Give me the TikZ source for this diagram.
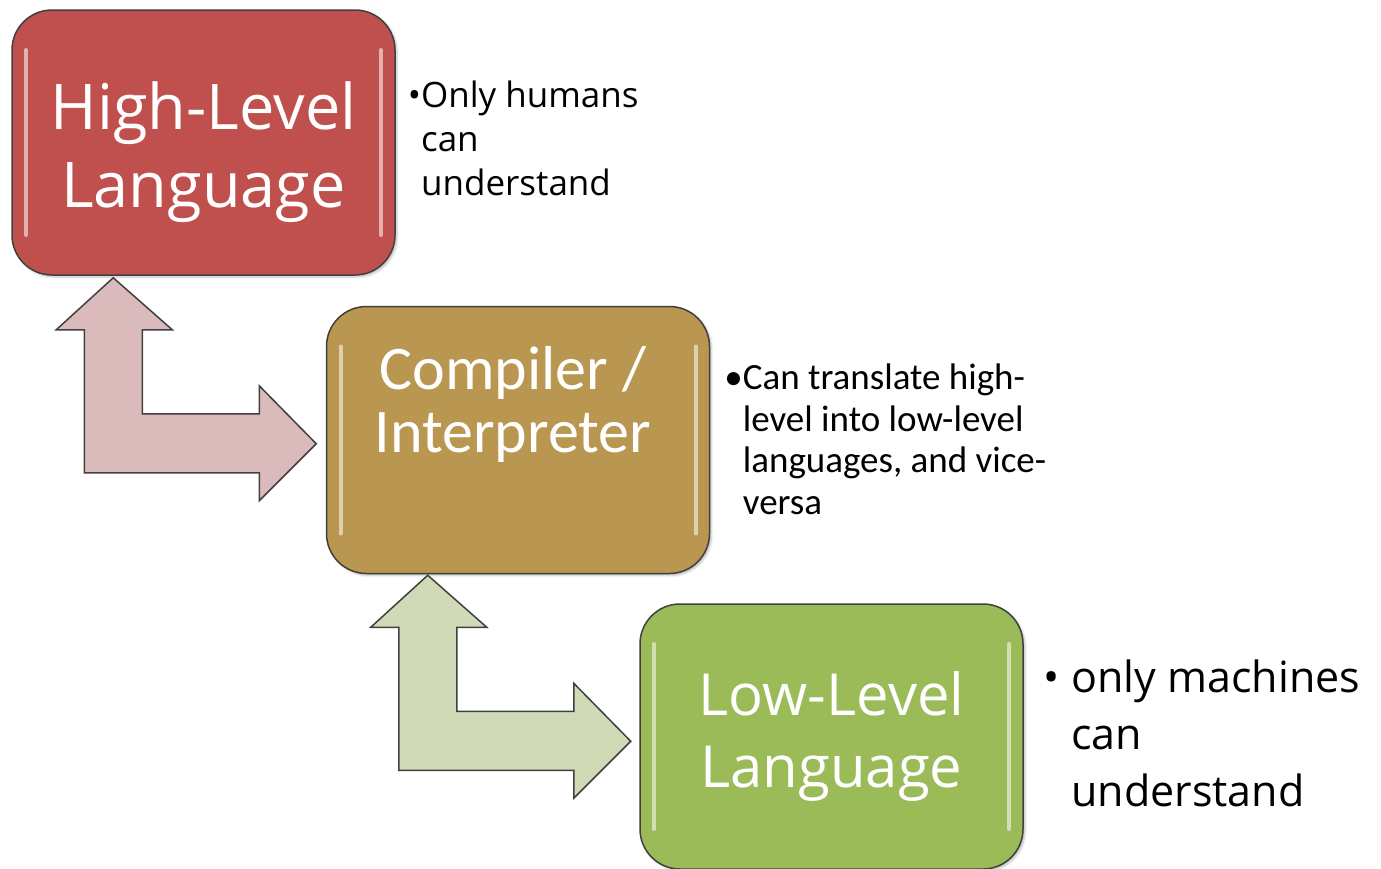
\documentclass[tikz,border=0pt]{standalone}
\usepackage{fontspec}
\setmainfont{Open Sans}
\newfontfamily\calibri{Carlito}
\usepackage{tikz}
\usetikzlibrary{calc, positioning, shadows.blur}
\definecolor{hlred}{HTML}{C0504D}
\definecolor{hltan}{HTML}{BA9751}
\definecolor{hlgreen}{HTML}{9BBB59}
\definecolor{arrpink}{HTML}{DBBABB}
\definecolor{arrgreen}{HTML}{D0DAB6}
\tikzset{
  level/.style={
    rectangle, rounded corners=40pt, minimum width=383pt, minimum height=265pt,
    align=center, draw=black!75, line width=1.5pt, text=white, inner sep=0pt,
    blur shadow={shadow xshift=2pt, shadow yshift=-2pt, shadow opacity=25},
    path picture={
      \draw[white, opacity=0.55, line width=4pt, line cap=round]
        ([shift={(14pt,-40pt)}]path picture bounding box.north west) --
        ([shift={(14pt,40pt)}]path picture bounding box.south west)
        ([shift={(-14pt,-40pt)}]path picture bounding box.north east) --
        ([shift={(-14pt,40pt)}]path picture bounding box.south east);
    }
  },
  note/.style={anchor=north west, align=left, inner sep=0pt, text=black},
  bentarrow/.pic={
    \draw[pic actions] (0,0) -- (0,-143) -- (-28,-143) -- (29,-195) -- (88,-143)
      -- (58,-143) -- (58,-59) -- (175,-59) -- (175,-87) -- (232,-29)
      -- (175,28) -- (175,0) -- cycle;
  },
  arrowshape/.style={draw=black!75, line width=1.5pt, line join=miter,
    blur shadow={shadow xshift=2pt, shadow yshift=-2pt, shadow opacity=25}}
}

\begin{document}
\begin{tikzpicture}[x=1pt, y=-1pt]
\useasboundingbox (0,0) rectangle (1381,868);

% The three levels
\node[level, fill=hlred, font=\fontsize{63}{78}\selectfont] (high) at (203.5,142.5)
  {\\[-10pt]High-Level\\Language};
\node[level, fill=hltan, minimum height=267pt, below right=30pt and -70pt of high] (comp) {};
\node[level, fill=hlgreen, below right=29pt and -71pt of comp, font=\fontsize{58}{72}\selectfont] (low)
  {Low-Level\\Language};
\node[text=white, align=center, font=\calibri\fontsize{62}{63}\selectfont] (comptxt)
  at ($(comp.center)+(-5,-36)$) {Compiler /\\Interpreter};

% Bent double arrows between the levels
\pic[arrowshape, fill=arrpink] at ($(high.south west)+(73,197)$) {bentarrow};
\pic[arrowshape, fill=arrgreen] at ($(comp.south west)+(73,196)$) {bentarrow};

% Notes
\node[note, font=\fontsize{35}{44}\selectfont] (highnote) at ($(high.north east)+(12,71)$)
  {•Only humans\\\hphantom{•}can\\\hphantom{•}understand};
\node[note, font=\calibri\fontsize{37}{41.5}\selectfont] (compnote) at ($(comp.north east)+(14,58)$)
  {•Can translate high-\\\hphantom{•}level into low-level\\\hphantom{•}languages, and vice-\\\hphantom{•}versa};
\node[note, font=\fontsize{43}{57}\selectfont] (lownote) at ($(low.north east)+(20,56)$)
  {• only machines\\\hphantom{• }can\\\hphantom{• }understand};

\end{tikzpicture}
\end{document}
